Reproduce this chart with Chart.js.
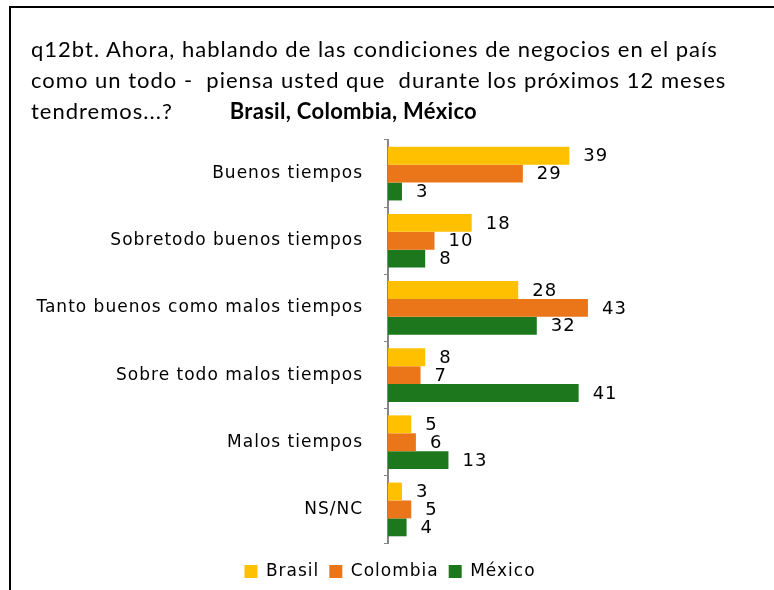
<!DOCTYPE html>
<html>
<head>
<meta charset="utf-8">
<script src="https://cdn.jsdelivr.net/npm/chart.js@4/dist/chart.umd.min.js"></script>
<style>
    html, body { margin: 0; padding: 0; background: #fff; }
    #page { position: relative; width: 774px; height: 590px; overflow: hidden; }
    #frame { position: absolute; left: 9px; top: 6px; width: 800px; height: 600px;
             border-top: 2px solid #000; border-left: 2px solid #000; }
    #title { position: absolute; left: 31px; top: 33px; font-family: Lato, sans-serif;
             font-size: 22px; letter-spacing: 1px; line-height: 31px; color: #000; white-space: nowrap; }
    #title b { margin-left: 57px; letter-spacing: 0.3px; }
    #wrap { position: absolute; left: 0; top: 0; width: 774px; height: 590px; }
</style>
</head>
<body>
<div id="page">
    <div id="frame"></div>
    <div id="wrap"><canvas id="chart-negocios"></canvas></div>
    <div id="title">
        q12bt. Ahora, hablando de las condiciones de negocios en el país<br>
        como un todo -&nbsp; piensa usted que&nbsp; durante los próximos 12 meses<br>
        tendremos...?<b>Brasil, Colombia, México</b>
    </div>
</div>
<script>
const categories = ['Buenos tiempos', 'Sobretodo buenos tiempos', 'Tanto buenos como malos tiempos',
    'Sobre todo malos tiempos', 'Malos tiempos', 'NS/NC'];
const brasil = [39, 18, 28, 8, 5, 3];
const colombia = [29, 10, 43, 7, 6, 5];
const mexico = [3, 8, 32, 41, 13, 4];

// the original text is drawn a bit loose, so widen the canvas letters
const spacing = {
    id: 'spacing',
    beforeInit(chart){ chart.ctx.letterSpacing = '1px'; },
    beforeDraw(chart){ chart.ctx.letterSpacing = '1px'; }
};

/*
 * Numbers next to each bar
 */
const valueLabels = {
    id: 'valueLabels',
    afterDatasetsDraw(chart){
        const ctx = chart.ctx;
        ctx.save();
        ctx.font = '18px "DejaVu Sans"';
        ctx.fillStyle = '#000';
        ctx.textAlign = 'left';
        ctx.textBaseline = 'middle';
        chart.data.datasets.forEach((ds, i) => {
            chart.getDatasetMeta(i).data.forEach((bar, j) => {
                ctx.fillText(ds.data[j], bar.x + 14, bar.y + 1);
            });
        });
        ctx.restore();
    }
};

new Chart(document.getElementById('chart-negocios'), {
    type: 'bar',
    data: {
        labels: categories,
        datasets: [
            { label: 'Brasil', data: brasil, backgroundColor: '#FFC000' },
            { label: 'Colombia', data: colombia, backgroundColor: '#EB7619' },
            { label: 'México', data: mexico, backgroundColor: '#1D771D' }
        ]
    },
    options: {
        indexAxis: 'y',
        responsive: true,
        maintainAspectRatio: false,
        animation: false,
        categoryPercentage: 0.8,
        barPercentage: 1.0,
        layout: { padding: { top: 140, right: 14, bottom: 0, left: 0 } },
        scales: {
            x: {
                min: 0,
                max: 80,
                grid: { display: false },
                border: { display: false },
                ticks: { display: false },
                afterFit(scale){ scale.height = 10; }
            },
            y: {
                grid: { drawOnChartArea: false, tickLength: 4, color: '#868686', lineWidth: 1 },
                border: { color: '#868686', width: 2 },
                ticks: { color: '#000', padding: 21, font: { family: 'DejaVu Sans', size: 17 } },
                afterFit(scale){ scale.width = 388; }
            }
        },
        plugins: {
            legend: {
                position: 'bottom',
                labels: {
                    boxWidth: 13,
                    boxHeight: 13,
                    padding: 10,
                    color: '#000',
                    font: { family: 'DejaVu Sans', size: 17 }
                }
            },
            tooltip: { enabled: false }
        }
    },
    plugins: [spacing, valueLabels]
});
</script>
</body>
</html>
